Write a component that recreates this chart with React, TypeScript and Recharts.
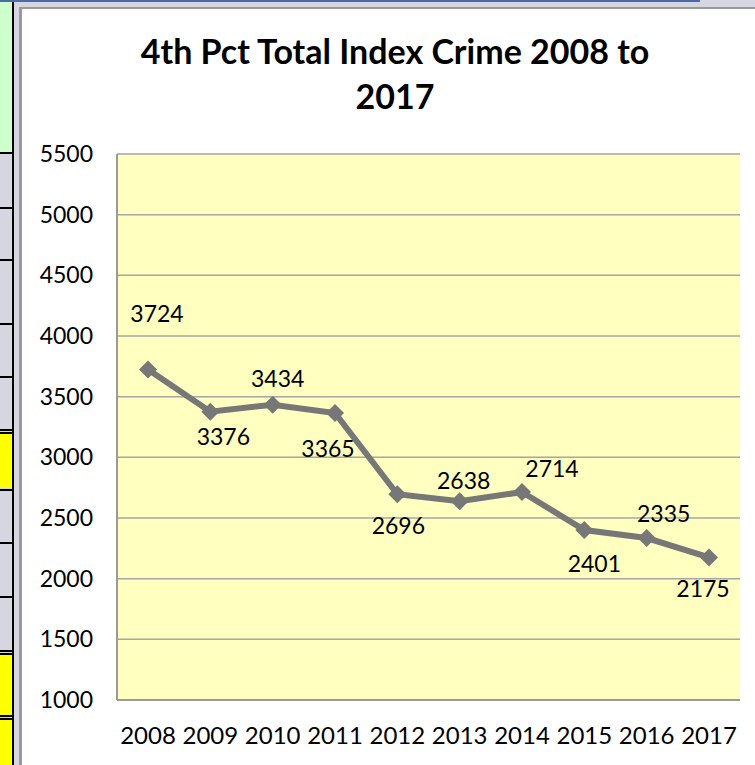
import React from 'react';
import { LineChart, Line, XAxis, YAxis, CartesianGrid, LabelList } from 'recharts';

// chart values
const years: string[] = ['2008', '2009', '2010', '2011', '2012', '2013', '2014', '2015', '2016', '2017'];
const totalCrime: number[] = [3724, 3376, 3434, 3365, 2696, 2638, 2714, 2401, 2335, 2175];
const yTicks: number[] = [1000, 1500, 2000, 2500, 3000, 3500, 4000, 4500, 5000, 5500];

// where each data label sits relative to its point (like Excel's manual placement)
const labelOffsets: [number, number][] = [
  [9, -56], [13, 24], [5, -27], [-7, 35], [1, 31],
  [4, -21], [30, -24], [10, 33], [17, -25], [-6, 31],
];

const data = years.map((year, i) => ({ year, total: totalCrime[i] }));

const FONT = 'Lato, "Open Sans", sans-serif';
const LINE_GREY = '#777777';

// spreadsheet cells peeking out on the left edge
const leftCells: { top: number; height: number; color: string }[] = [
  { top: 2, height: 150, color: '#ccffcc' },
  { top: 154, height: 52, color: '#d6d6e0' },
  { top: 209, height: 50, color: '#d6d6e0' },
  { top: 261, height: 61, color: '#d6d6e0' },
  { top: 324, height: 52, color: '#d6d6e0' },
  { top: 378, height: 51, color: '#d6d6e0' },
  { top: 434, height: 54, color: '#ffff00' },
  { top: 490, height: 51, color: '#d6d6e0' },
  { top: 543, height: 52, color: '#d6d6e0' },
  { top: 597, height: 53, color: '#d6d6e0' },
  { top: 654, height: 61, color: '#ffff00' },
  { top: 719, height: 46, color: '#ffff00' },
];
const doubleLines: number[] = [430, 651, 716];

const Diamond = (props: any) => {
  const { cx, cy } = props;
  if (cx == null || cy == null) return null;
  const r = 9;
  return (
    <polygon
      points={`${cx},${cy - r} ${cx + r},${cy} ${cx},${cy + r} ${cx - r},${cy}`}
      fill={LINE_GREY}
    />
  );
};

const PointLabel = (props: any) => {
  const { x, y, value, index } = props;
  const [dx, dy] = labelOffsets[index] || [0, -20];
  return (
    <text
      x={x + dx}
      y={y + dy}
      textAnchor="middle"
      dominantBaseline="central"
      fontFamily={FONT}
      fontSize={23}
      fill="#000"
    >
      {value}
    </text>
  );
};

export default function App() {
  return (
    <div style={{ position: 'absolute', left: 0, top: 0, width: 755, height: 765, background: '#d6d6e0', overflow: 'hidden' }}>
      {/* window chrome along the top */}
      <div style={{ position: 'absolute', left: 0, top: 0, width: 700, height: 2, background: '#4a6aa8' }} />
      {/* sheet cells on the left */}
      {leftCells.map((c, i) => (
        <div key={i} style={{ position: 'absolute', left: 0, top: c.top, width: 12, height: c.height, background: c.color }} />
      ))}
      {[152, 207, 259, 323, 376, 489, 542, 596].map((y) => (
        <div key={y} style={{ position: 'absolute', left: 0, top: y, width: 13, height: 2, background: '#000' }} />
      ))}
      {doubleLines.map((y) => (
        <React.Fragment key={y}>
          <div style={{ position: 'absolute', left: 0, top: y - 1, width: 13, height: 2, background: '#000' }} />
          <div style={{ position: 'absolute', left: 0, top: y + 2, width: 13, height: 2, background: '#000' }} />
        </React.Fragment>
      ))}
      <div style={{ position: 'absolute', left: 12, top: 2, width: 2, height: 763, background: '#000' }} />

      {/* chart frame */}
      <div
        style={{
          position: 'absolute',
          left: 19,
          top: 7,
          width: 736,
          height: 758,
          background: '#fff',
          borderLeft: '3px solid #9a9a9a',
          borderTop: '2px solid #9a9a9a',
          boxSizing: 'border-box',
        }}
      />

      <div
        style={{
          position: 'absolute',
          left: 20,
          top: 28,
          width: 750,
          textAlign: 'center',
          fontFamily: FONT,
          fontWeight: 'bold',
          fontSize: 34,
          lineHeight: '45px',
          color: '#000',
        }}
      >
        4th Pct Total Index Crime 2008 to
        <br />
        2017
      </div>

      <div style={{ position: 'absolute', left: 0, top: 0, width: 755, height: 765 }}>
        <LineChart width={755} height={765} data={data} margin={{ top: 154, right: 15, bottom: 0, left: 0 }}>
          <CartesianGrid vertical={false} stroke="#a6a6a6" strokeWidth={1.5} fill="#ffffbf" />
          <XAxis
            dataKey="year"
            height={65}
            padding={{ left: 31, right: 31 }}
            tickLine={false}
            tickSize={0}
            tickMargin={27}
            axisLine={{ stroke: '#9a9a9a', strokeWidth: 2 }}
            tick={{ fontFamily: FONT, fontSize: 24, fill: '#000' }}
            interval={0}
          />
          <YAxis
            domain={[1000, 5500]}
            ticks={yTicks}
            width={117}
            tickLine={false}
            tickSize={0}
            tickMargin={24}
            axisLine={{ stroke: '#9a9a9a', strokeWidth: 2 }}
            tick={{ fontFamily: FONT, fontSize: 23, fill: '#000' }}
            allowDataOverflow
          />
          <Line
            dataKey="total"
            stroke={LINE_GREY}
            strokeWidth={6}
            dot={<Diamond />}
            activeDot={false}
            isAnimationActive={false}
          >
            <LabelList dataKey="total" content={<PointLabel />} />
          </Line>
        </LineChart>
      </div>
    </div>
  );
}
